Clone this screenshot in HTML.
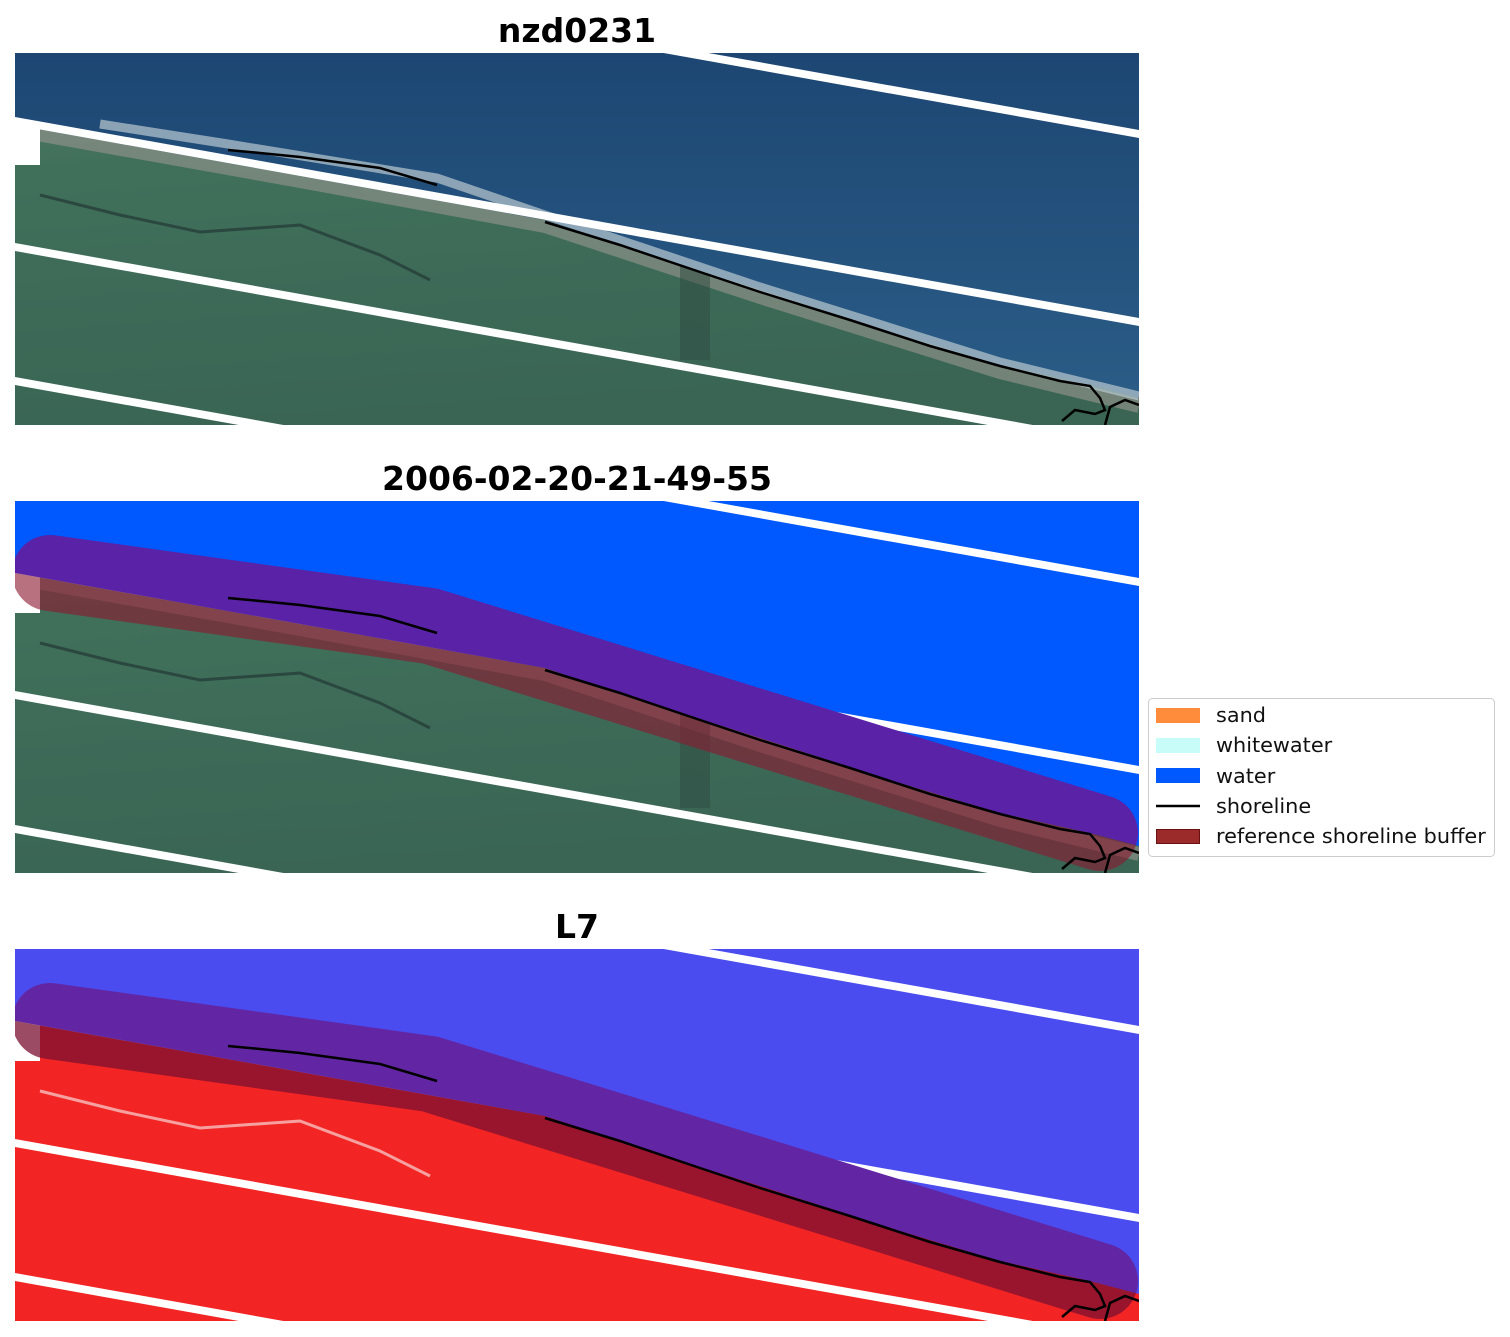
<!DOCTYPE html>
<html><head><meta charset="utf-8"><style>
html,body{margin:0;padding:0;background:#fff;overflow:hidden;width:1510px;height:1337px;}
svg{display:block;font-family:"DejaVu Sans","Liberation Sans",sans-serif;}
</style></head><body>
<svg width="1510" height="1337" viewBox="0 0 1510 1337" xmlns="http://www.w3.org/2000/svg">
<defs>
  <clipPath id="pc"><rect x="15" y="53" width="1124" height="372"/></clipPath>
  <clipPath id="landc"><polygon points="15,125 300,176 545,220 650,255 760,290 900,335 1000,365 1090,385 1139,398 1139,425 15,425"/></clipPath>
  <clipPath id="waterc"><polygon points="15,0 1139,0 1139,398 1090,385 1000,365 900,335 760,290 650,255 545,220 300,176 15,125"/></clipPath>
  <linearGradient id="wg" x1="0" y1="0" x2="0" y2="1">
    <stop offset="0" stop-color="#1d4673"/><stop offset="1" stop-color="#2b5e88"/>
  </linearGradient>
  <linearGradient id="lg" x1="0" y1="0" x2="0.2" y2="1">
    <stop offset="0" stop-color="#5f7a6e"/><stop offset="0.3" stop-color="#40705a"/><stop offset="1" stop-color="#3a6555"/>
  </linearGradient>
  <g id="stripes">
    <polygon points="15,-71 1139,130 1139,138 15,-63" fill="#fff"/>
    <polygon points="15,117 1139,318 1139,326 15,125" fill="#fff"/>
    <polygon points="15,243 1139,444 1139,452 15,251" fill="#fff"/>
    <polygon points="15,377 1139,578 1139,586 15,385" fill="#fff"/>
    <rect x="15" y="123" width="25" height="42" fill="#fff"/>
  </g>
  <g id="rgbland">
    <rect x="15" y="53" width="1124" height="372" fill="url(#lg)" clip-path="url(#landc)"/>
    <polyline points="15,130 300,181 545,226 760,297 1000,372 1139,406" fill="none" stroke="#8c9088" stroke-width="14" opacity="0.7" clip-path="url(#landc)"/>
    <polyline points="40,195 120,215 200,232 300,225 380,255 430,280" fill="none" stroke="#263e3a" stroke-width="3" opacity="0.8"/>
    <rect x="680" y="260" width="30" height="100" fill="#2e4a40" opacity="0.5" clip-path="url(#landc)"/>
  </g>
  <g id="shore" fill="none" stroke="#000" stroke-width="2.5">
    <polyline points="228,150 260,153 300,157 380,168 437,185"/>
    <polyline points="545,222 620,245 700,272 760,292 850,320 930,346 1000,366 1060,381 1090,386 1100,398 1105,410 1095,414 1075,410 1062,421"/>
    <polyline points="1105,425 1110,407 1125,400 1139,405"/>
  </g>
</defs>

<!-- Panel 1 -->
<text x="577" y="42" text-anchor="middle" font-size="33" font-weight="bold">nzd0231</text>
<g clip-path="url(#pc)">
  <rect x="15" y="53" width="1124" height="372" fill="url(#wg)"/>
  <use href="#rgbland"/>
  <polyline points="100,124 228,144 437,178 545,215 760,287 1000,362 1139,396" fill="none" stroke="#b9c9d0" stroke-width="9" opacity="0.7"/>
  <use href="#stripes"/>
  <use href="#shore"/>
</g>

<!-- Panel 2 -->
<text x="577" y="490" text-anchor="middle" font-size="33" font-weight="bold">2006-02-20-21-49-55</text>
<g transform="translate(0,448)">
<g clip-path="url(#pc)">
  <rect x="15" y="53" width="1124" height="372" fill="#0059ff"/>
  <use href="#rgbland"/>
  <use href="#stripes"/>
  <g clip-path="url(#waterc)"><polyline points="50,125 430,178 1100,385" fill="none" stroke="#5a22a6" stroke-width="76" stroke-linecap="round" stroke-linejoin="round"/></g>
  <g clip-path="url(#landc)"><polyline points="50,125 430,178 1100,385" fill="none" stroke="#8a1a30" stroke-opacity="0.62" stroke-width="76" stroke-linecap="round" stroke-linejoin="round"/></g>
  <use href="#shore"/>
</g>
</g>

<!-- Panel 3 -->
<text x="577" y="938" text-anchor="middle" font-size="33" font-weight="bold">L7</text>
<g transform="translate(0,896)">
<g clip-path="url(#pc)">
  <rect x="15" y="53" width="1124" height="372" fill="#4a4cf0"/>
  <rect x="15" y="53" width="1124" height="372" fill="#f22424" clip-path="url(#landc)"/>
  <polyline points="40,195 120,215 200,232 300,225 380,255 430,280" fill="none" stroke="#f6a0a0" stroke-width="3"/>
  <use href="#stripes"/>
  <g clip-path="url(#waterc)"><polyline points="50,125 430,178 1100,385" fill="none" stroke="#6226a4" stroke-width="76" stroke-linecap="round" stroke-linejoin="round"/></g>
  <g clip-path="url(#landc)"><polyline points="50,125 430,178 1100,385" fill="none" stroke="#7a1030" stroke-opacity="0.75" stroke-width="76" stroke-linecap="round" stroke-linejoin="round"/></g>
  <use href="#shore"/>
</g>
</g>

<!-- Legend -->
<rect x="1148.5" y="698.5" width="346" height="158" rx="4" fill="#fff" stroke="#cccccc"/>
<rect x="1156" y="708" width="44" height="15" fill="#ff8c3a"/>
<rect x="1156" y="738" width="44" height="15" fill="#c8fcf8"/>
<rect x="1156" y="768" width="44" height="15" fill="#0059ff"/>
<line x1="1156" y1="806" x2="1200" y2="806" stroke="#000" stroke-width="2.5"/>
<rect x="1156.5" y="829.5" width="43" height="14" fill="#9b2a2a" stroke="#6a1010"/>
<g font-size="20.8" fill="#111">
<text x="1216" y="722">sand</text>
<text x="1216" y="752">whitewater</text>
<text x="1216" y="783">water</text>
<text x="1216" y="813">shoreline</text>
<text x="1216" y="843">reference shoreline buffer</text>
</g>
</svg>
</body></html>
